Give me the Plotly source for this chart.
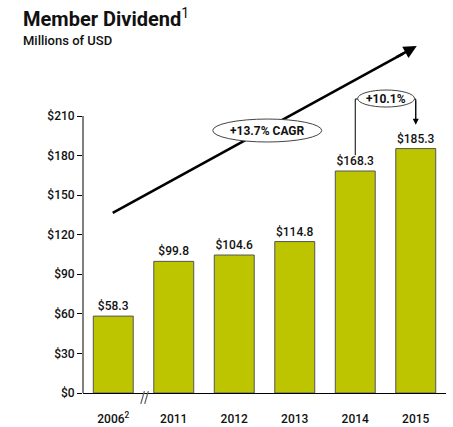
import plotly.graph_objects as go

categories = ["2006<sup>2</sup>", "2011", "2012", "2013", "2014", "2015"]
values = [58.3, 99.8, 104.6, 114.8, 168.3, 185.3]
tick_vals = [0, 30, 60, 90, 120, 150, 180, 210]
tick_text = ["$0", "$30", "$60", "$90", "$120", "$150", "$180", "$210"]
cagr_label = "+13.7% CAGR"
yoy_label = "+10.1%"

BAR = "#BDC400"
FONT = "Roboto"
TXT = dict(family=FONT, size=12, color="#111111", weight=500)
xs = list(range(len(categories)))

fig = go.Figure()
fig.add_trace(go.Bar(
    x=xs, y=values, width=0.66,
    marker=dict(color=BAR, line=dict(color="#555555", width=1)),
    text=[f"${v:.1f}" for v in values], textposition="outside",
    textfont=TXT,
    cliponaxis=False, hoverinfo="skip",
))

# trend arrow geometry (data coords)
tx0, ty0, tx1, ty1 = -0.008, 136.5, 5.017, 263.0
frac = 0.955

shapes = []
# y axis line (only up to the top tick)
shapes.append(dict(type="line", xref="paper", yref="y", x0=0, x1=0,
                   y0=0, y1=tick_vals[-1], line=dict(color="black", width=1)))
# axis break marks
for dx in (-0.045, 0.02):
    shapes.append(dict(type="line", xref="x", yref="paper",
                       x0=0.5 + dx, x1=0.5 + dx + 0.06, y0=-0.03, y1=0.005,
                       line=dict(color="#666666", width=1.3)))
# trend line
shapes.append(dict(type="line", xref="x", yref="y", x0=tx0, y0=ty0,
                   x1=tx0 + (tx1 - tx0) * frac, y1=ty0 + (ty1 - ty0) * frac,
                   line=dict(color="black", width=2.6), layer="above"))
# CAGR ellipse
shapes.append(dict(type="circle", xref="x", yref="y", x0=1.645, x1=3.446,
                   y0=190.3, y1=207.7, fillcolor="white",
                   line=dict(color="#444444", width=1), layer="above"))
# bracket from 2014 to 2015
i14, i15 = 4, 5
top = 222.9
shapes.append(dict(type="path", xref="x", yref="y",
                   path=f"M {i14},{values[i14] + 12} L {i14},{top} L {i14 + 0.05},{top}",
                   line=dict(color="black", width=1)))
shapes.append(dict(type="path", xref="x", yref="y",
                   path=f"M {i15 - 0.03},{top} L {i15},{top} L {i15},{values[i15] + 20}",
                   line=dict(color="black", width=1)))
shapes.append(dict(type="circle", xref="x", yref="y", x0=4.04, x1=4.98,
                   y0=216.8, y1=229.7, fillcolor="white",
                   line=dict(color="#444444", width=1), layer="above"))

px0 = -83 / 363
annotations = [
    # trend arrowhead
    dict(x=tx1, y=ty1, ax=tx0 + (tx1 - tx0) * 0.93, ay=ty0 + (ty1 - ty0) * 0.93,
         xref="x", yref="y", axref="x", ayref="y", showarrow=True, arrowhead=2,
         arrowsize=1, arrowwidth=2.6, arrowcolor="black", text=""),
    dict(x=(1.645 + 3.446) / 2, y=199, xref="x", yref="y", text=cagr_label,
         showarrow=False, font=dict(family=FONT, size=12, color="#111111", weight="bold")),
    # 2014 -> 2015 arrow
    dict(x=i15, y=values[i15] + 18, ax=i15, ay=top, xref="x", yref="y",
         axref="x", ayref="y", showarrow=True, arrowhead=2, arrowsize=1.2,
         arrowwidth=1, arrowcolor="black", text=""),
    dict(x=4.51, y=223.2, xref="x", yref="y", text=yoy_label, showarrow=False,
         font=dict(family=FONT, size=12, color="#111111", weight="bold")),
    dict(x=px0 + 21 / 363, y=1 + 30 / 363 - 3 / 363, xref="paper", yref="paper",
         xanchor="left", yanchor="top", showarrow=False,
         text="<b>Member Dividend</b><sup>1</sup>",
         font=dict(family=FONT, size=20, color="#111111")),
    dict(x=px0 + 21 / 363, y=1 + 30 / 363 - 31 / 363, xref="paper", yref="paper",
         xanchor="left", yanchor="top", showarrow=False,
         text="Millions of USD",
         font=dict(family=FONT, size=13, color="#111111", weight=500)),
]

fig.update_layout(
    width=453, height=427,
    margin=dict(l=83, r=7, t=30, b=34),
    paper_bgcolor="white", plot_bgcolor="white",
    showlegend=False,
    shapes=shapes,
    annotations=annotations,
    xaxis=dict(range=[-0.5, 5.5], tickvals=xs, ticktext=categories,
               showline=True, linecolor="black", linewidth=1, ticks="",
               showgrid=False, zeroline=False, fixedrange=True, automargin=False,
               tickfont=TXT, ticklabelstandoff=15),
    yaxis=dict(range=[0, 275.2], tickvals=tick_vals, ticktext=tick_text,
               showline=False, ticks="outside", ticklen=5, tickcolor="black",
               showgrid=False, zeroline=False, fixedrange=True, automargin=False,
               tickfont=TXT),
)

fig.write_html("out.html", config={"displayModeBar": False},
               post_script="document.body.style.margin='0';")
